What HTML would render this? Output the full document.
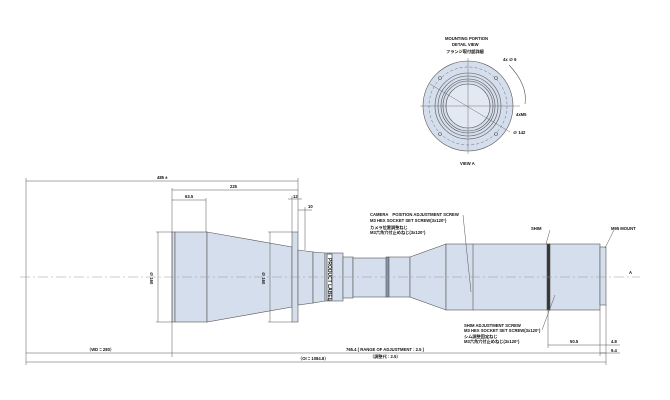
<!DOCTYPE html>
<html><head><meta charset="utf-8"><style>body{margin:0;background:#fff}svg{display:block}text{font-family:"Liberation Sans","Noto Sans CJK JP",sans-serif;font-weight:bold;fill:#111}</style></head>
<body>
<svg width="670" height="400" viewBox="0 0 670 400" xmlns="http://www.w3.org/2000/svg">
<g stroke="#555" stroke-width="0.6" fill="#d5deec">
<circle cx="468" cy="106" r="45"/>
<circle cx="468" cy="106" r="33" fill="none"/>
<circle cx="468" cy="106" r="30"/>
<circle cx="468" cy="106" r="27" fill="none"/>
<circle cx="468" cy="106" r="25" fill="none"/>
<circle cx="468" cy="106" r="22" fill="#e3e9f3"/>
<circle cx="468" cy="106" r="39" fill="none" stroke-dasharray="3 2" stroke-width="0.4"/>
<line x1="420" y1="106" x2="520" y2="106" fill="none" stroke-width="0.4"/>
<line x1="468" y1="58" x2="468" y2="154" fill="none" stroke-width="0.4"/>
<line x1="430" y1="84" x2="510" y2="132" fill="none" stroke-width="0.4"/>
<circle cx="496" cy="78" r="1.5"/><circle cx="440" cy="78" r="1.5"/><circle cx="440" cy="134" r="1.5"/><circle cx="496" cy="134" r="1.5"/>
<path d="M509 65 Q528 85 525 104" fill="none"/>
<rect x="172" y="232" width="3" height="90"/>
<rect x="175" y="232" width="32" height="90"/>
<path d="M207 232 L292 247 L292 307 L207 322 Z"/>
<rect x="292" y="232" width="6" height="90"/>
<path d="M298 250 L313 252 L313 303 L298 305Z"/>
<path d="M313 252 L325 253 L325 301 L313 303Z"/>
<rect x="325" y="253" width="18" height="48"/>
<rect x="327" y="254" width="5" height="46" fill="#fff" stroke="#222"/>
<rect x="343" y="257" width="10" height="41"/>
<rect x="353" y="258" width="34" height="39"/>
<rect x="386" y="257" width="3" height="40" fill="#8895a8"/>
<rect x="389" y="257" width="21" height="40"/>
<path d="M410 257 L446 244 L446 310 L410 297Z"/>
<rect x="446" y="244" width="154" height="66"/>
<line x1="473" y1="244" x2="473" y2="310"/>
<rect x="547" y="244" width="3" height="66" fill="#333"/>
<rect x="600" y="247" width="6" height="58"/>
</g>
<g stroke="#555" stroke-width="0.5" fill="none">
<line x1="20" y1="277" x2="640" y2="277" stroke="#999" stroke-dasharray="10 3 2 3"/>
<line x1="26" y1="181" x2="298" y2="181"/><line x1="26" y1="178" x2="26" y2="365"/>
<line x1="298" y1="178" x2="298" y2="232"/>
<line x1="172" y1="190" x2="298" y2="190"/><line x1="172" y1="188" x2="172" y2="357"/>
<line x1="172" y1="200" x2="206" y2="200"/><line x1="206" y1="198" x2="206" y2="232"/>
<line x1="288" y1="199" x2="302" y2="199"/><line x1="292" y1="196" x2="292" y2="232"/>
<line x1="298" y1="210" x2="312" y2="210"/><line x1="305" y1="207" x2="305" y2="250"/>
<line x1="156" y1="232" x2="172" y2="232"/><line x1="156" y1="322" x2="172" y2="322"/><line x1="158" y1="232" x2="158" y2="322"/>
<line x1="268" y1="232" x2="292" y2="232"/><line x1="268" y1="322" x2="292" y2="322"/><line x1="270" y1="232" x2="270" y2="322"/>
<line x1="26" y1="353" x2="172" y2="353"/>
<line x1="172" y1="353" x2="606" y2="353"/>
<line x1="26" y1="362" x2="606" y2="362"/>
<line x1="548" y1="345" x2="600" y2="345"/><line x1="548" y1="310" x2="548" y2="348"/>
<line x1="600" y1="310" x2="600" y2="356"/><line x1="606" y1="305" x2="606" y2="365"/>
<line x1="600" y1="345" x2="620" y2="345"/><line x1="600" y1="353" x2="620" y2="353"/>
<line x1="463" y1="215" x2="471" y2="292"/>
<line x1="550" y1="230" x2="546" y2="244"/>
<line x1="614" y1="230" x2="605" y2="248"/>
<line x1="555" y1="295" x2="542" y2="330"/>
</g>
<g font-size="4.2">
<text x="157" y="179">485 ±</text>
<text x="230" y="188">225</text>
<text x="185" y="198">63.5</text>
<text x="293" y="198">12</text>
<text x="308" y="208">10</text>
<text x="87" y="351">（WD = 280）</text>
<text x="298" y="360">（OI = 1084.8）</text>
<text x="346" y="351">765.4 ( RANGE OF ADJUSTMENT : 2.5 )</text>
<text x="370" y="358">（調整代 : 2.5）</text>
<text x="370" y="216">CAMERA　POSITION ADJUSTMENT SCREW</text>
<text x="370" y="222">M3 HEX SOCKET SET SCREW(3x120°)</text>
<text x="370" y="229">カメラ位置調整ねじ</text>
<text x="370" y="234">M3六角穴付止めねじ(3x120°)</text>
<text x="531" y="230">SHIM</text>
<text x="611" y="230">M95 MOUNT</text>
<text x="464" y="327">SHIM ADJUSTMENT SCREW</text>
<text x="464" y="332">M3 HEX SOCKET SET SCREW(3x120°)</text>
<text x="464" y="338">シム調整固定ねじ</text>
<text x="464" y="343">M3六角穴付止めねじ(3x120°)</text>
<text x="570" y="343">50.5</text>
<text x="611" y="343">4.8</text>
<text x="611" y="352">9.4</text>
<text x="629" y="274">A</text>
<text x="445" y="40">MOUNTING PORTION</text>
<text x="452" y="46">DETAIL VIEW</text>
<text x="446" y="53">フランジ取付部詳細</text>
<text x="503" y="61">4x ∅ 6</text>
<text x="516" y="116">4xM5</text>
<text x="513" y="134">∅ 142</text>
<text x="460" y="165">VIEW A</text>
<text transform="translate(150,272) rotate(90)">∅ 160</text>
<text transform="translate(262,272) rotate(90)">∅ 160</text>
<text transform="translate(328,258) rotate(90)" font-size="5">PRODUCT LABEL</text>
</g>
</svg>
</body></html>
